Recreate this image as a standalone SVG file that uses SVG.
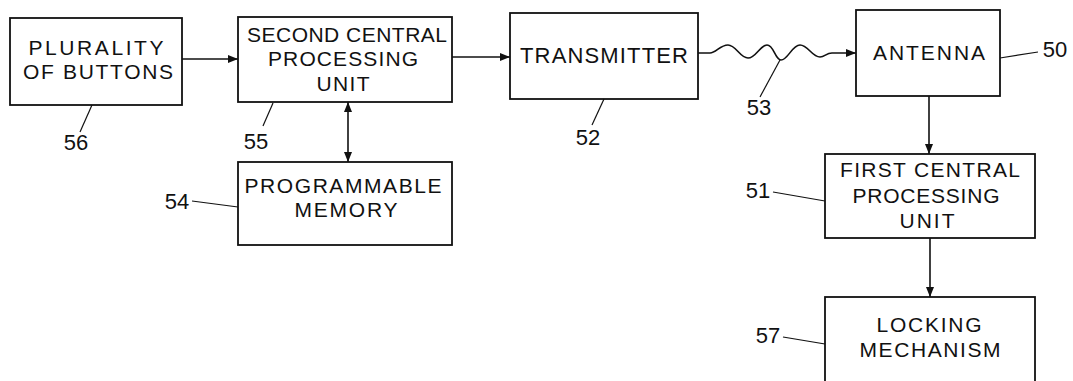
<svg xmlns="http://www.w3.org/2000/svg" width="1073" height="381" viewBox="0 0 1073 381">
<style>
.box{fill:#fff;stroke:#111;stroke-width:1.8}
.t{font-family:"Liberation Sans",Arial,sans-serif;font-size:21px;fill:#111;text-anchor:middle}
.lbl{font-family:"Liberation Sans",Arial,sans-serif;font-size:22px;fill:#111;text-anchor:middle}
.ln{fill:none;stroke:#111;stroke-width:1.6}
.ld{fill:none;stroke:#111;stroke-width:1.2}
</style>
<defs>
<marker id="ah" markerUnits="userSpaceOnUse" markerWidth="10" markerHeight="8" refX="10" refY="4" orient="auto-start-reverse">
<path d="M0,0 L10,4 L0,8 z" fill="#111"/>
</marker>
</defs>
<rect width="1073" height="381" fill="#fff"/>
<g id="connectors">
<line class="ln" x1="182" y1="59" x2="238" y2="59" marker-end="url(#ah)"/>
<line class="ln" x1="452" y1="57" x2="510" y2="57" marker-end="url(#ah)"/>
<path class="ln" d="M697,53 L710,53 C716,53 720,45 728,45 C736,45 740,58 748,58 C756,58 760,45 767,45 C774,45 775,60 781,60 C788,60 792,45 800,45 C808,45 812,57 820,57 C825,57 826,53 832,53 L856,53" marker-end="url(#ah)"/>
<line class="ln" x1="348" y1="102" x2="348" y2="162" marker-start="url(#ah)" marker-end="url(#ah)"/>
<line class="ln" x1="929" y1="96" x2="929" y2="154" marker-end="url(#ah)"/>
<line class="ln" x1="930" y1="238" x2="930" y2="297" marker-end="url(#ah)"/>
</g>
<g id="n56">
<rect class="box" x="10" y="18" width="172" height="87"/>
<text class="t" x="96" y="55" textLength="135" lengthAdjust="spacing">PLURALITY</text>
<text class="t" x="98" y="79" textLength="150" lengthAdjust="spacing">OF BUTTONS</text>
<line class="ld" x1="92" y1="105" x2="80" y2="132"/>
<text class="lbl" x="76" y="150">56</text>
</g>
<g id="n55">
<rect class="box" x="238" y="17" width="214" height="85"/>
<text class="t" x="347" y="42" textLength="200" lengthAdjust="spacing">SECOND CENTRAL</text>
<text class="t" x="343" y="66" textLength="150" lengthAdjust="spacing">PROCESSING</text>
<text class="t" x="343" y="91" textLength="53" lengthAdjust="spacing">UNIT</text>
<line class="ld" x1="273" y1="103" x2="263" y2="126"/>
<text class="lbl" x="256" y="149">55</text>
</g>
<g id="n54">
<rect class="box" x="238" y="162" width="214" height="83"/>
<text class="t" x="343" y="193" textLength="197" lengthAdjust="spacing">PROGRAMMABLE</text>
<text class="t" x="346" y="217" textLength="103" lengthAdjust="spacing">MEMORY</text>
<line class="ld" x1="192" y1="201" x2="238" y2="207"/>
<text class="lbl" x="177" y="209">54</text>
</g>
<g id="n52">
<rect class="box" x="510" y="13" width="188" height="86"/>
<text class="t" x="604" y="63" style="font-size:22px" textLength="168" lengthAdjust="spacing">TRANSMITTER</text>
<line class="ld" x1="604" y1="99" x2="592" y2="125"/>
<text class="lbl" x="588" y="145">52</text>
</g>
<g id="n53">
<line class="ld" x1="780" y1="60" x2="760" y2="97"/>
<text class="lbl" x="759" y="115">53</text>
</g>
<g id="n50">
<rect class="box" x="856" y="10" width="144" height="86"/>
<text class="t" x="929" y="60" textLength="112" lengthAdjust="spacing">ANTENNA</text>
<line class="ld" x1="1000" y1="58" x2="1038" y2="52"/>
<text class="lbl" x="1055" y="57">50</text>
</g>
<g id="n51">
<rect class="box" x="825" y="154" width="210" height="84"/>
<text class="t" x="930" y="177" textLength="180" lengthAdjust="spacing">FIRST CENTRAL</text>
<text class="t" x="926" y="203" textLength="147" lengthAdjust="spacing">PROCESSING</text>
<text class="t" x="927" y="228" textLength="55" lengthAdjust="spacing">UNIT</text>
<line class="ld" x1="773" y1="192" x2="825" y2="201"/>
<text class="lbl" x="758" y="198">51</text>
</g>
<g id="n57">
<rect class="box" x="825" y="297" width="210" height="110"/>
<text class="t" x="929" y="332" textLength="105" lengthAdjust="spacing">LOCKING</text>
<text class="t" x="930" y="357" textLength="141" lengthAdjust="spacing">MECHANISM</text>
<line class="ld" x1="783" y1="337" x2="825" y2="344"/>
<text class="lbl" x="768" y="343">57</text>
</g>
</svg>
